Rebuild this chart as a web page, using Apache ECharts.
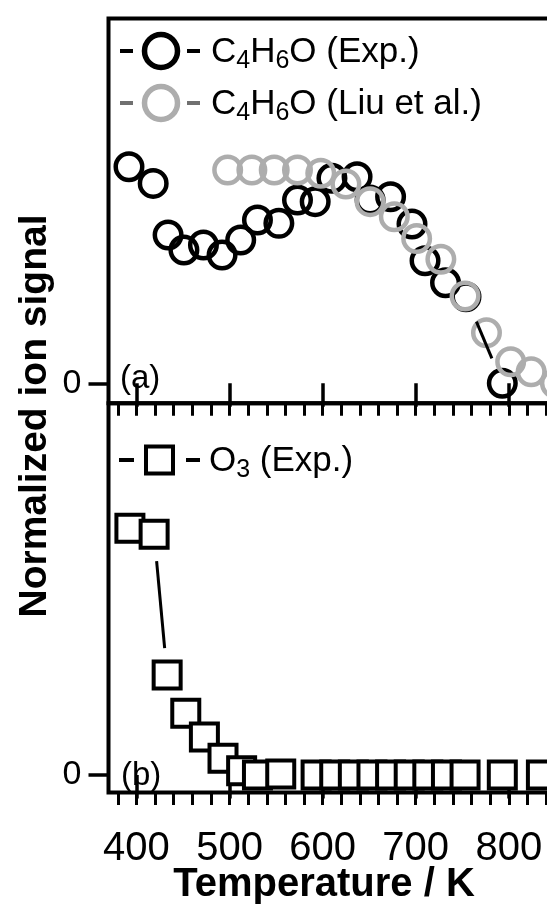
<!DOCTYPE html>
<html><head><meta charset="utf-8">
<script src="https://cdn.jsdelivr.net/npm/echarts@6/dist/echarts.min.js"></script>
<style>html,body{margin:0;padding:0;background:#fff}#c{width:547px;height:908px}</style>
</head><body><div id="c"></div>
<script>
// ---- data ----
const tempC4Exp = [392, 418, 434, 451, 472, 492, 512, 530, 553, 573, 592, 610, 637, 651, 673, 696, 710, 732, 754, 793];
const c4h6oExp  = [1.007, 0.930, 0.690, 0.620, 0.643, 0.597, 0.667, 0.760, 0.744, 0.853, 0.845, 0.954, 0.961, 0.853, 0.868, 0.741, 0.570, 0.468, 0.403, 0.0];
const tempLiu   = [498, 524, 548, 573, 598, 625, 651, 677, 701, 727, 753, 776, 802, 824, 850];
const c4h6oLiu  = [0.992, 0.992, 0.992, 0.992, 0.977, 0.927, 0.845, 0.775, 0.674, 0.577, 0.406, 0.235, 0.100, 0.054, 0.0];
const tempO3    = [393, 419, 433, 453, 473, 493, 513, 530, 555, 593, 613, 633, 653, 673, 693, 713, 733, 753, 793, 835];
const o3Exp     = [1.0, 0.976, 0.405, 0.250, 0.154, 0.068, 0.017, 0.0, 0.004, 0, 0, 0, 0, 0, 0, 0, 0, 0, 0, 0];
const xMajorTicks = [400, 500, 600, 700, 800, 900];
const xMinorTicks = [380, 400, 420, 440, 460, 480, 500, 520, 540, 560, 580, 600, 620, 640, 660, 680, 700, 720, 740, 760, 780, 800, 820, 840, 860, 880];
const xTickLabels = [400, 500, 600, 700, 800];
const yTickLabels = [0];

const FONT = '"Liberation Sans", Arial, sans-serif';
const chart = echarts.init(document.getElementById('c'), null, {renderer: 'canvas'});

function pairs(xs, ys) { return xs.slice(0, -1).map((x, i) => [x, ys[i], xs[i + 1], ys[i + 1]]); }
function gapRender(color, width, gap) {
  return function (params, api) {
    const p0 = api.coord([api.value(0), api.value(1)]);
    const p1 = api.coord([api.value(2), api.value(3)]);
    const dx = p1[0] - p0[0], dy = p1[1] - p0[1];
    const len = Math.sqrt(dx * dx + dy * dy);
    if (len <= 2 * gap) return null;
    const ux = dx / len, uy = dy / len;
    return {type: 'line', shape: {x1: p0[0] + ux * gap, y1: p0[1] + uy * gap, x2: p1[0] - ux * gap, y2: p1[1] - uy * gap},
            style: {stroke: color, lineWidth: width, lineCap: 'butt'}};
  };
}

function xAxes(gridIndex, major, labels) {
  const base = {gridIndex: gridIndex, type: 'value', min: 370, max: 880, position: 'bottom',
    axisLine: {show: false}, splitLine: {show: false}};
  return [
    Object.assign({}, base, {
      axisTick: {show: true, inside: false, length: 23.5, customValues: major, lineStyle: {color: '#000', width: 3.5}},
      axisLabel: labels ? {show: true, customValues: labels, fontFamily: FONT, fontSize: 40, color: '#000', margin: 36, hideOverlap: false} : {show: false}
    }),
    Object.assign({}, base, {
      axisTick: {show: true, inside: false, length: 12.5, customValues: xMinorTicks, lineStyle: {color: '#000', width: 3}},
      axisLabel: {show: false}
    })
  ];
}
function yAxis(gridIndex, min, max) {
  return {gridIndex: gridIndex, type: 'value', min: min, max: max,
    axisLine: {show: false}, splitLine: {show: false},
    axisTick: {show: true, inside: false, length: 20, customValues: yTickLabels, lineStyle: {color: '#000', width: 3.5}},
    axisLabel: {show: true, customValues: yTickLabels, fontFamily: FONT, fontSize: 34, color: '#000', margin: 27}};
}

const subRich = {
  n: {fontFamily: FONT, fontSize: 35, lineHeight: 40, verticalAlign: 'bottom', padding: [0, 0, 4, 0], fill: '#000'},
  s: {fontFamily: FONT, fontSize: 25, lineHeight: 22, verticalAlign: 'bottom', fill: '#000'}
};

const gridBase = {left: 108.5, width: 474.8, show: true, borderColor: '#000', borderWidth: 4,
  backgroundColor: 'rgba(0,0,0,0)', containLabel: false, outerBoundsMode: 'none'};

const option = {
  animation: false,
  backgroundColor: '#fff',
  grid: [
    Object.assign({}, gridBase, {top: 18.5, height: 384.8}),
    Object.assign({}, gridBase, {top: 403.3, height: 389.2})
  ],
  xAxis: [].concat(xAxes(0, xMajorTicks, null), xAxes(1, xMajorTicks, xTickLabels)),
  yAxis: [yAxis(0, -0.093, 1.697), yAxis(1, -0.071, 1.507)],
  series: [
    {type: 'custom', name: 'C4H6O (Exp.) line', coordinateSystem: 'cartesian2d', xAxisIndex: 0, yAxisIndex: 0,
     data: pairs(tempC4Exp, c4h6oExp), encode: {x: [0, 2], y: [1, 3]}, renderItem: gapRender('#000', 3, 27), silent: true, z: 5},
    {type: 'custom', name: 'C4H6O (Liu) line', coordinateSystem: 'cartesian2d', xAxisIndex: 0, yAxisIndex: 0,
     data: pairs(tempLiu, c4h6oLiu), encode: {x: [0, 2], y: [1, 3]}, renderItem: gapRender('#707070', 3, 27), silent: true, z: 5},
    {type: 'scatter', name: 'C4H6O (Exp.)', xAxisIndex: 0, yAxisIndex: 0, symbol: 'circle', symbolSize: 26.5,
     data: tempC4Exp.map((t, i) => [t, c4h6oExp[i]]), clip: false, silent: true,
     itemStyle: {color: 'rgba(255,255,255,0)', borderColor: '#000', borderWidth: 4.5, opacity: 1}, z: 3},
    {type: 'scatter', name: 'C4H6O (Liu et al.)', xAxisIndex: 0, yAxisIndex: 0, symbol: 'circle', symbolSize: 26.5,
     data: tempLiu.map((t, i) => [t, c4h6oLiu[i]]), clip: false, silent: true,
     itemStyle: {color: 'rgba(255,255,255,0)', borderColor: '#adadad', borderWidth: 4.5, opacity: 1}, z: 4},
    {type: 'custom', name: 'O3 line', coordinateSystem: 'cartesian2d', xAxisIndex: 2, yAxisIndex: 1,
     data: pairs(tempO3, o3Exp), encode: {x: [0, 2], y: [1, 3]}, renderItem: gapRender('#000', 3, 27), silent: true, z: 5},
    {type: 'scatter', name: 'O3 (Exp.)', xAxisIndex: 2, yAxisIndex: 1, symbol: 'rect', symbolSize: 27,
     data: tempO3.map((t, i) => [t, o3Exp[i]]), clip: false, silent: true,
     itemStyle: {color: '#fff', borderColor: '#000', borderWidth: 4, opacity: 1}, z: 3}
  ],
  graphic: [
    {type: 'text', x: 35, y: 416, rotation: Math.PI / 2, silent: true,
     style: {text: 'Normalized ion signal', fontFamily: FONT, fontWeight: 'bold', fontSize: 39, fill: '#000', textAlign: 'center', textVerticalAlign: 'middle'}},
    {type: 'text', x: 324, y: 885, silent: true,
     style: {text: 'Temperature / K', fontFamily: FONT, fontWeight: 'bold', fontSize: 40, fill: '#000', textAlign: 'center', textVerticalAlign: 'middle'}},
    {type: 'text', x: 120, y: 379, silent: true,
     style: {text: '(a)', fontFamily: FONT, fontSize: 33, fill: '#000', textAlign: 'left', textVerticalAlign: 'middle'}},
    {type: 'text', x: 121, y: 776, silent: true,
     style: {text: '(b)', fontFamily: FONT, fontSize: 33, fill: '#000', textAlign: 'left', textVerticalAlign: 'middle'}},
    {type: 'line', silent: true, shape: {x1: 120, y1: 51, x2: 133, y2: 51}, style: {stroke: '#000', lineWidth: 4}},
    {type: 'circle', silent: true, shape: {cx: 161, cy: 51, r: 16.5}, style: {fill: 'none', stroke: '#000', lineWidth: 5.5}},
    {type: 'line', silent: true, shape: {x1: 187, y1: 51, x2: 200, y2: 51}, style: {stroke: '#000', lineWidth: 4}},
    {type: 'text', x: 211, y: 54, silent: true,
     style: {text: '{n|C}{s|4}{n|H}{s|6}{n|O (Exp.)}', rich: subRich, textAlign: 'left', textVerticalAlign: 'middle'}},
    {type: 'line', silent: true, shape: {x1: 120, y1: 103, x2: 133, y2: 103}, style: {stroke: '#707070', lineWidth: 4}},
    {type: 'circle', silent: true, shape: {cx: 161, cy: 103, r: 16.5}, style: {fill: 'none', stroke: '#adadad', lineWidth: 5.5}},
    {type: 'line', silent: true, shape: {x1: 187, y1: 103, x2: 200, y2: 103}, style: {stroke: '#707070', lineWidth: 4}},
    {type: 'text', x: 211, y: 106, silent: true,
     style: {text: '{n|C}{s|4}{n|H}{s|6}{n|O (Liu et al.)}', rich: subRich, textAlign: 'left', textVerticalAlign: 'middle'}},
    {type: 'line', silent: true, shape: {x1: 119, y1: 460, x2: 134, y2: 460}, style: {stroke: '#000', lineWidth: 4}},
    {type: 'rect', silent: true, shape: {x: 146, y: 446.5, width: 27, height: 27}, style: {fill: '#fff', stroke: '#000', lineWidth: 4}},
    {type: 'line', silent: true, shape: {x1: 186, y1: 460, x2: 200, y2: 460}, style: {stroke: '#000', lineWidth: 4}},
    {type: 'text', x: 209, y: 463, silent: true,
     style: {text: '{n|O}{s|3}{n| (Exp.)}', rich: subRich, textAlign: 'left', textVerticalAlign: 'middle'}}
  ]
};
chart.setOption(option);
</script></body></html>
